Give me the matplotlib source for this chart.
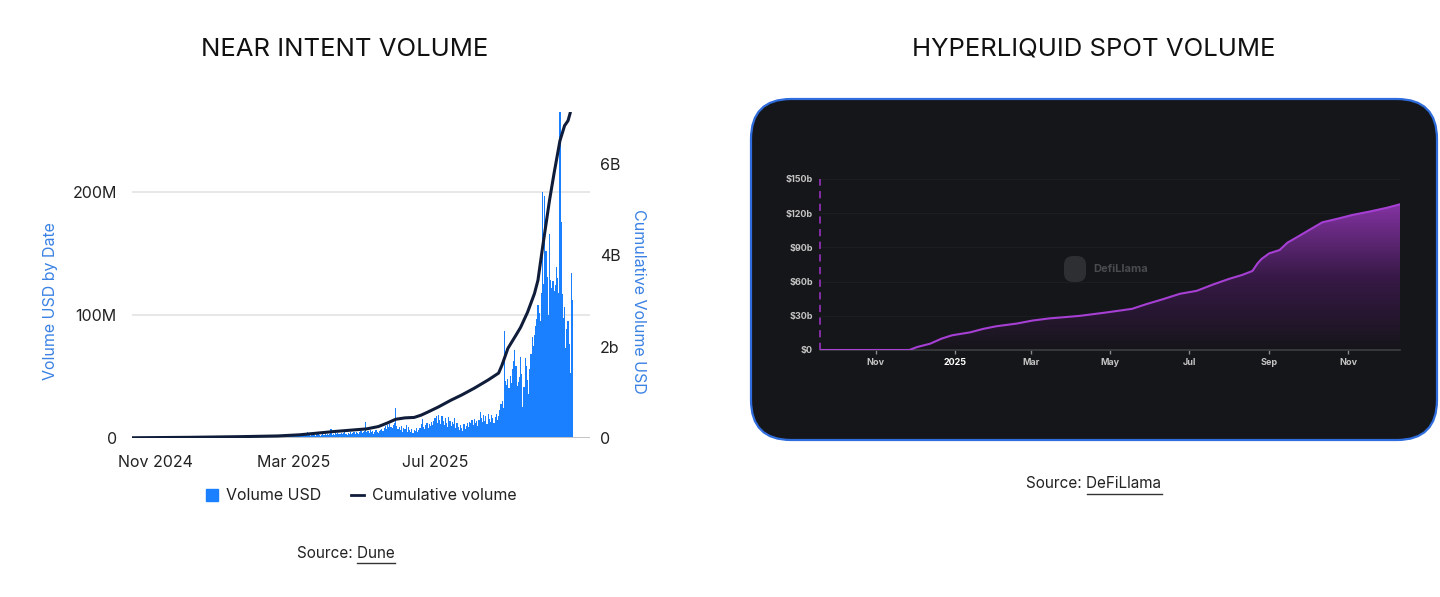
import matplotlib
matplotlib.use('Agg')
import matplotlib.pyplot as plt
import matplotlib.dates as mdates
from matplotlib.patches import FancyBboxPatch
from matplotlib.lines import Line2D
from matplotlib.colors import LinearSegmentedColormap
import numpy as np
import pandas as pd

plt.rcParams['font.family'] = ['Inter', 'DejaVu Sans']

# NEAR Intents daily volume, million USD, one value per day from 2024-10-12
vol_2024_10 = [0.2, 0.3, 0.2, 0.4, 0.3, 0.2, 0.3, 0.5, 0.3, 0.2, 0.4, 0.3, 0.3, 0.2, 0.4, 0.3, 0.5, 0.3, 0.4, 0.3]
vol_2024_11 = [0.4, 0.3, 0.5, 0.4, 0.6, 0.3, 0.4, 0.5, 0.4, 0.6, 0.5, 0.7, 0.4, 0.5, 0.6, 0.4, 0.5, 0.7, 0.6, 0.5,
               0.4, 0.6, 0.8, 0.5, 0.6, 0.7, 0.5, 0.6, 0.8, 0.6]
vol_2024_12 = [0.6, 0.7, 0.9, 0.6, 0.8, 0.7, 0.5, 0.6, 0.9, 0.8, 0.7, 0.6, 1.0, 0.8, 0.7, 0.9, 0.6, 0.8, 1.1, 0.7,
               0.6, 0.8, 0.9, 0.7, 0.5, 0.8, 1.0, 0.9, 0.7, 0.8, 0.9]
vol_2025_01 = [0.9, 1.1, 0.8, 1.0, 1.2, 0.9, 0.8, 1.1, 1.3, 1.0, 0.9, 0.8, 1.2, 1.4, 1.0, 0.9, 1.1, 1.3, 1.0, 0.8,
               1.2, 1.5, 1.1, 0.9, 1.0, 1.3, 1.2, 1.0, 1.4, 1.1, 1.2]
vol_2025_02 = [1.3, 1.5, 2.6, 1.2, 1.4, 1.1, 1.6, 1.3, 1.5, 1.8, 1.2, 1.4, 1.7, 1.3, 1.1, 1.5, 1.9, 1.4, 1.2, 1.6,
               1.8, 1.5, 1.3, 1.7, 2.0, 1.6, 1.4, 1.8]
vol_2025_03 = [1.5, 2.0, 1.8, 2.4, 1.6, 2.2, 2.8, 1.9, 2.5, 2.1, 3.0, 2.3, 5.2, 2.6, 1.8, 2.4, 3.1, 2.2, 2.7, 1.9,
               2.9, 3.4, 2.5, 2.0, 2.8, 3.2, 2.4, 3.0, 2.6, 3.5, 2.8]
vol_2025_04 = [3.2, 7.2, 2.8, 3.5, 2.6, 3.9, 3.1, 4.2, 2.9, 3.6, 4.4, 3.0, 3.8, 4.6, 3.3, 2.7, 4.1, 3.5, 4.8, 3.2,
               3.9, 4.5, 3.6, 5.0, 4.0, 3.4, 4.7, 5.3, 4.2, 4.9]
vol_2025_05 = [5.5, 13.2, 4.8, 5.6, 3.9, 6.2, 4.5, 5.8, 3.6, 4.9, 6.4, 5.1, 4.2, 5.7, 6.8, 7.5, 6.1, 8.2, 9.4, 7.0,
               10.5, 8.6, 11.8, 9.2, 7.8, 10.9, 12.1, 24.5, 9.6, 7.2, 8.8]
vol_2025_06 = [6.5, 9.8, 5.2, 8.4, 7.1, 10.2, 4.6, 8.9, 6.3, 5.1, 7.4, 4.3, 6.8, 5.6, 7.9, 4.8, 6.2, 8.5, 11.3, 15.4,
               9.1, 7.6, 10.4, 12.2, 8.3, 11.6, 9.7, 12.8, 10.5, 14.2]
vol_2025_07 = [16.5, 18.2, 12.4, 19.1, 14.6, 11.2, 17.8, 13.5, 10.6, 15.9, 12.3, 8.7, 16.8, 14.1, 9.5, 13.2, 11.4,
               16.2, 7.8, 12.6, 9.1, 6.4, 10.8, 8.2, 5.6, 11.5, 7.4, 9.8, 12.1, 8.9, 13.4]
vol_2025_08 = [12.4, 14.8, 10.6, 15.2, 11.9, 13.6, 9.8, 14.5, 21.3, 16.2, 12.8, 18.4, 14.1, 17.6, 11.3, 19.2, 15.8,
               13.4, 18.9, 16.5, 12.2, 17.3, 19.6, 14.7, 18.1, 22.4, 27.6, 29.8, 24.5, 87.2, 46.1]
vol_2025_09 = [43.5, 48.2, 40.6, 50.3, 44.8, 56.2, 62.4, 71.3, 58.6, 42.1, 45.7, 49.8, 66.2, 52.4, 25.3, 41.6, 65.4,
               58.9, 47.2, 36.1, 55.8, 68.4, 82.3, 74.6, 84.1, 91.5, 97.2, 108.6, 101.4, 95.2]
vol_2025_10 = [118.4, 200.5, 125.3, 197.2, 152.6, 131.4, 100.2, 166.3, 128.7, 122.4, 127.9, 119.6, 124.8, 139.2,
               130.5, 118.3, 265.4, 176.2, 117.5, 97.3, 106.8, 73.2, 88.6, 95.1, 76.4, 53.2, 134.1, 112.6]

daily_volume_m = (vol_2024_10 + vol_2024_11 + vol_2024_12 + vol_2025_01 + vol_2025_02 + vol_2025_03
                  + vol_2025_04 + vol_2025_05 + vol_2025_06 + vol_2025_07 + vol_2025_08 + vol_2025_09
                  + vol_2025_10)
near_dates = pd.date_range('2024-10-12', periods=len(daily_volume_m), freq='D')

# cumulative volume, billion USD
cum_dates = pd.to_datetime(['2024-10-12', '2024-12-01', '2025-01-15', '2025-02-15', '2025-03-06', '2025-04-04',
                            '2025-05-03', '2025-05-13', '2025-05-21', '2025-05-28', '2025-06-05', '2025-06-13',
                            '2025-06-19', '2025-06-25', '2025-07-04', '2025-07-15', '2025-07-24', '2025-08-04',
                            '2025-08-16', '2025-08-25', '2025-08-28', '2025-09-02', '2025-09-09', '2025-09-13',
                            '2025-09-19', '2025-09-25', '2025-09-28', '2025-10-02', '2025-10-08', '2025-10-12',
                            '2025-10-17', '2025-10-21', '2025-10-24', '2025-10-26'])
cum_volume_b = [0.005, 0.015, 0.03, 0.045, 0.07, 0.14, 0.20, 0.25, 0.33, 0.41, 0.44, 0.45,
                0.50, 0.57, 0.68, 0.83, 0.94, 1.09, 1.27, 1.42, 1.60, 1.96, 2.25, 2.42,
                2.75, 3.16, 3.45, 4.17, 5.20, 5.80, 6.50, 6.83, 6.94, 7.12]

# Hyperliquid cumulative spot volume, billion USD
hl_dates = pd.to_datetime(['2024-09-19', '2024-11-27', '2024-12-03', '2024-12-13', '2024-12-22', '2024-12-30',
                           '2025-01-13', '2025-01-23', '2025-02-02', '2025-02-18', '2025-03-02', '2025-03-15',
                           '2025-03-31', '2025-04-08', '2025-04-28', '2025-05-18', '2025-05-29', '2025-06-11',
                           '2025-06-24', '2025-07-07', '2025-07-19', '2025-08-01', '2025-08-11', '2025-08-19',
                           '2025-08-23', '2025-08-26', '2025-09-01', '2025-09-09', '2025-09-15', '2025-09-24',
                           '2025-10-04', '2025-10-12', '2025-10-25', '2025-11-04', '2025-11-17', '2025-12-01',
                           '2025-12-11'])
hl_volume_b = [0, 0, 2.6, 5.5, 10.0, 12.9, 15.5, 18.5, 20.8, 23.2, 25.8, 27.7, 29.2, 30.0, 32.9, 36.1, 40.2, 44.6,
               49.3, 51.9, 57.2, 62.4, 65.8, 69.3, 76.0, 79.8, 84.8, 87.7, 94.1, 100.0, 106.7, 112.0, 115.5,
               118.4, 121.3, 124.8, 127.8]

near_ticks = pd.to_datetime(['2024-11-01', '2025-03-01', '2025-07-01'])
near_tick_labels = ['Nov 2024', 'Mar 2025', 'Jul 2025']
hl_ticks = pd.to_datetime(['2024-11-01', '2025-01-01', '2025-03-01', '2025-05-01', '2025-07-01',
                           '2025-09-01', '2025-11-01'])
hl_tick_labels = ['Nov', '2025', 'Mar', 'May', 'Jul', 'Sep', 'Nov']

W, H = 1440, 597
blue = '#1a80ff'
navy = '#101d3a'
label_blue = '#3a82e4'
txt = '#222222'

fig = plt.figure(figsize=(W / 100, H / 100), dpi=100)
fig.patch.set_facecolor('white')


def frac(x0, y0, x1, y1):
    # pixel box -> figure fraction rect
    return [x0 / W, 1 - y1 / H, (x1 - x0) / W, (y1 - y0) / H]


# background layer in pixel coords
bg = fig.add_axes([0, 0, 1, 1])
bg.set_xlim(0, W)
bg.set_ylim(H, 0)
bg.axis('off')

bg.text(345, 49, 'NEAR INTENT VOLUME', ha='center', va='center', fontsize=18.5, color='#111111')
bg.text(1094, 49, 'HYPERLIQUID SPOT VOLUME', ha='center', va='center', fontsize=18.5, color='#111111')

# ---- left chart ----
ax = fig.add_axes(frac(132, 112, 590, 438))
ax.bar(near_dates, daily_volume_m, width=1.0, color=blue, linewidth=0, zorder=2)
ax.set_ylim(0, 265.4)
ax.set_xlim(pd.Timestamp('2024-10-12'), pd.Timestamp('2025-11-12'))
ax.set_yticks([0, 100, 200])
ax.set_yticklabels(['0', '100M', '200M'])
ax.set_xticks(near_ticks)
ax.set_xticklabels(near_tick_labels)
ax.set_axisbelow(True)
ax.grid(axis='y', color='#e0e0e0', linewidth=1.1)
ax.axhline(0, color='#c4c4c4', linewidth=1.4, zorder=3)
for s in ax.spines.values():
    s.set_visible(False)
ax.tick_params(axis='both', length=0, labelsize=11.5, colors=txt)
ax.tick_params(axis='y', pad=11)
ax.tick_params(axis='x', pad=12)
ax.set_facecolor('none')

axr = ax.twinx()
axr.plot(cum_dates, cum_volume_b, color=navy, linewidth=2.2, solid_joinstyle='round',
         solid_capstyle='round', zorder=4)
axr.set_ylim(0, 7.13)
axr.set_yticks([0, 2, 4, 6])
axr.set_yticklabels(['0', '2b', '4B', '6B'])
for s in axr.spines.values():
    s.set_visible(False)
axr.tick_params(axis='y', length=0, labelsize=11.5, colors=txt, pad=7)

bg.text(51, 301, 'Volume USD by Date', rotation=90, ha='center', va='center', fontsize=11.5, color=label_blue)
bg.text(638, 301, 'Cumulative Volume USD', rotation=270, ha='center', va='center', fontsize=11.5,
        color=label_blue)

handles = [Line2D([], [], marker='s', linestyle='none', color=blue, markersize=8),
           Line2D([], [], color=navy, linewidth=2)]
fig.legend(handles, ['Volume USD', 'Cumulative volume'], loc='center',
           bbox_to_anchor=(361 / W, 1 - 496 / H), ncol=2, frameon=False, fontsize=11.5,
           handlelength=0.8, handletextpad=0.5, columnspacing=1.9, labelcolor=txt)

# ---- right panel ----
panel = FancyBboxPatch((751, 99), 686, 341, boxstyle='round,pad=0,rounding_size=40',
                       facecolor='#151619', edgecolor='#2f6ddc', linewidth=1.6, zorder=1)
bg.add_patch(panel)
bg.add_patch(FancyBboxPatch((1064, 256), 22, 26, boxstyle='round,pad=0,rounding_size=9',
                            facecolor='#2e2f33', edgecolor='none', zorder=2))
bg.text(1093, 269, 'DefiLlama', ha='left', va='center', fontsize=8, fontweight='bold', color='#4a4b4f',
        zorder=2)

ax2 = fig.add_axes(frac(820, 179, 1400, 350))
ax2.set_facecolor('none')
ax2.set_axisbelow(True)
poly = ax2.fill_between(hl_dates, hl_volume_b, 0, color='none', linewidth=0)
cmap = LinearSegmentedColormap.from_list('fade', ['#17151b', '#3a1a4a', '#8a35aa'])
grad = np.linspace(0, 1, 256).reshape(-1, 1)
xn = mdates.date2num(hl_dates)
im = ax2.imshow(grad, extent=[xn[0], xn[-1], 0, 128], origin='lower', aspect='auto', cmap=cmap,
                alpha=0.95, zorder=1)
im.set_clip_path(poly.get_paths()[0], transform=ax2.transData)
ax2.plot(hl_dates, hl_volume_b, color='#a63fd4', linewidth=1.5, solid_joinstyle='round', zorder=3)
ax2.set_xlim(pd.Timestamp('2024-09-19'), pd.Timestamp('2025-12-11'))
ax2.set_ylim(0, 150)
ax2.set_yticks([0, 30, 60, 90, 120, 150])
ax2.set_yticklabels(['$0', '$30b', '$60b', '$90b', '$120b', '$150b'])
ax2.set_xticks(hl_ticks)
ax2.set_xticklabels(hl_tick_labels)
ax2.grid(axis='y', color='#1c1d21', linewidth=0.8)
for k in ['top', 'right', 'left']:
    ax2.spines[k].set_visible(False)
ax2.spines['bottom'].set_color('#3d3e43')
ax2.spines['bottom'].set_linewidth(1.2)
ax2.tick_params(axis='y', length=0, labelsize=6.5, colors='#c4c4c4', pad=5)
ax2.tick_params(axis='x', length=3, width=1, color='#8a8a8a', labelsize=6.5, labelcolor='#c4c4c4', pad=3)
for lab in ax2.get_xticklabels() + ax2.get_yticklabels():
    lab.set_fontweight('bold')
ax2.get_xticklabels()[1].set_color('#ffffff')
ax2.axvline(pd.Timestamp('2024-09-19'), color='#8e2fb3', linewidth=1.3, linestyle=(0, (4, 3)),
            clip_on=False, zorder=2)


# sources with underlined link text
def source(cx, y, name):
    full = bg.text(cx, y, 'Source: ' + name, ha='center', va='center', fontsize=11, color=txt)
    only = bg.text(0, -50, name, fontsize=11)
    fig.canvas.draw()
    r = fig.canvas.get_renderer()
    b = full.get_window_extent(r)
    w = only.get_window_extent(r).width
    only.remove()
    bg.plot([b.x1 - w, b.x1], [y + 10, y + 10], color='#333333', linewidth=1)


source(346, 553, 'Dune')
source(1094, 484, 'DeFiLlama')

fig.savefig('out.png', dpi=100)
